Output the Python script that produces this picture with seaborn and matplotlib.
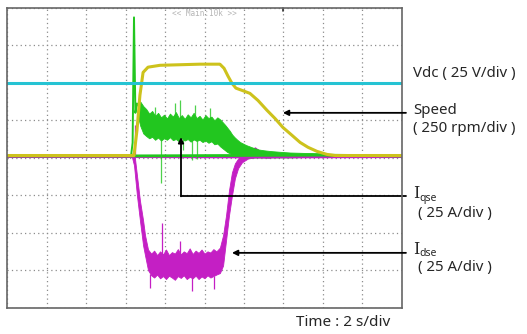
import numpy as np
import matplotlib
matplotlib.use("Agg")
import matplotlib.pyplot as plt
import seaborn as sns

# DATA  (time in s, 2 s/div ; values in screen divisions, 0..8)

# Vdc (cyan), flat
vdc_t = [0, 20]
vdc_v = [6.0, 6.0]

# Speed (yellow)
speed_t = [0, 6.33, 6.43, 6.58, 6.73, 6.89, 7.14, 7.75, 9.77, 10.78, 10.99, 11.19,
           11.39, 11.59, 11.90, 12.30, 12.71, 13.16, 13.57, 13.97, 14.43, 14.84,
           15.24, 15.70, 16.20, 16.61, 20]
speed_v = [4.06, 4.06, 4.06, 4.73, 5.67, 6.28, 6.42, 6.47, 6.50, 6.50, 6.39, 6.18,
           5.99, 5.86, 5.80, 5.72, 5.53, 5.27, 5.05, 4.81, 4.60, 4.41,
           4.28, 4.17, 4.09, 4.06, 4.06]

# Iqse (green): baseline, start spike, noisy band envelope
iqse_base_t = [0, 6.28, 15.85, 20]
iqse_base_v = [4.05, 4.05, 4.07, 4.05]
iqse_spike_t = [6.28, 6.36, 6.43, 6.50, 6.58, 6.63]
iqse_spike_v = [4.05, 4.40, 7.75, 5.20, 5.45, 5.40]
iqse_band_t = [6.63, 6.75, 6.90, 7.05, 7.20, 7.35, 7.50, 7.65, 7.80, 7.95,
               8.10, 8.25, 8.40, 8.55, 8.70, 8.85, 9.00, 9.15, 9.30, 9.45,
               9.60, 9.75, 9.90, 10.05, 10.20, 10.35, 10.50, 10.65, 10.80,
               10.92, 11.04, 11.16, 11.28, 11.40, 11.52, 11.66, 11.80, 11.95, 12.10,
               12.30, 12.50, 12.75, 13.00, 13.32, 13.80, 14.33, 15.00, 15.85]
iqse_upper = [5.53, 5.50, 5.38, 5.30, 5.18, 5.25, 5.12, 5.20, 5.08, 5.15,
              5.05, 5.18, 5.10, 5.22, 5.06, 5.14, 5.04, 5.16, 5.08, 5.20,
              5.06, 5.12, 5.02, 5.14, 5.06, 5.10, 5.00, 5.08, 5.02,
              4.95, 4.88, 4.80, 4.72, 4.62, 4.55, 4.48, 4.42, 4.38, 4.34,
              4.30, 4.26, 4.22, 4.20, 4.18, 4.16, 4.14, 4.13, 4.12]
iqse_lower = [5.10, 4.85, 4.65, 4.58, 4.52, 4.56, 4.48, 4.54, 4.46, 4.52,
              4.48, 4.55, 4.47, 4.50, 4.44, 4.52, 4.46, 4.50, 4.43, 4.49,
              4.45, 4.48, 4.42, 4.46, 4.40, 4.44, 4.36, 4.38, 4.30,
              4.25, 4.20, 4.15, 4.12, 4.09, 4.07, 4.05, 4.03, 4.02, 4.01,
              4.01, 4.01, 4.01, 4.01, 4.01, 4.01, 4.01, 4.02, 4.02]
iqse_peaks_t = [7.49, 8.51, 8.76, 9.52, 10.30, 7.80, 8.91, 9.37, 9.62]
iqse_peaks_lo = [4.90, 4.90, 4.90, 4.90, 4.90, 3.32, 4.20, 3.93, 3.98]
iqse_peaks_hi = [5.35, 5.45, 5.53, 5.40, 5.32, 4.60, 4.50, 4.50, 4.50]

# Idse (magenta): baseline and noisy band envelope
idse_base_t = [0, 6.33, 13.32, 20]
idse_base_v = [4.03, 4.03, 4.02, 4.03]
idse_band_t = [6.33, 6.43, 6.58, 6.73, 6.89, 6.99,
               7.14, 7.30, 7.45, 7.60, 7.75, 7.90, 8.05, 8.20, 8.35, 8.50,
               8.65, 8.80, 8.95, 9.10, 9.25, 9.40, 9.55, 9.70, 9.85, 10.00,
               10.15, 10.30, 10.45, 10.60,
               10.78, 10.94, 11.09, 11.24, 11.39, 11.54, 11.70, 11.90, 12.20,
               12.56, 12.91, 13.32]
idse_upper = [4.09, 4.20, 3.53, 2.86, 2.33, 1.93,
              1.55, 1.44, 1.52, 1.40, 1.50, 1.42, 1.55, 1.40, 1.48, 1.44,
              1.56, 1.42, 1.50, 1.45, 1.58, 1.43, 1.52, 1.46, 1.55, 1.44,
              1.50, 1.47, 1.56, 1.50,
              1.60, 1.93, 2.46, 3.13, 3.61, 3.85, 3.98, 4.06, 4.20,
              4.28, 4.14, 4.04]
idse_lower = [4.01, 3.80, 2.99, 2.33, 1.66, 1.39,
              1.00, 0.86, 0.80, 0.88, 0.78, 0.84, 0.76, 0.85, 0.80, 0.74,
              0.84, 0.79, 0.86, 0.76, 0.82, 0.78, 0.85, 0.76, 0.83, 0.78,
              0.86, 0.80, 0.84, 0.88,
              0.92, 1.12, 1.79, 2.46, 2.99, 3.45, 3.72, 3.88, 3.98,
              4.01, 4.01, 4.00]
idse_peaks_t = [6.48, 7.85, 8.76, 7.24, 9.37, 10.50]
idse_peaks_lo = [4.06, 1.30, 1.30, 0.51, 0.45, 0.50]
idse_peaks_hi = [4.87, 2.27, 1.79, 0.90, 0.85, 0.85]

# arrows: (tip t, tip v, tail t, tail v)
speed_arrow = (13.97, 5.20, 20.2, 5.20)
idse_arrow = (11.39, 1.46, 20.2, 1.46)
iqse_path_t = [20.2, 8.81, 8.81]
iqse_path_v = [2.97, 2.97, 4.55]

CYAN = "#25c3d3"
YELLOW = "#cdc21c"
GREEN = "#22c61f"
MAGENTA = "#c41fc4"

sns.set_theme(style="white")
plt.rcParams['font.family'] = ['Noto Sans', 'DejaVu Sans']

fig = plt.figure(figsize=(5.27, 3.34), dpi=100)
ax = fig.add_axes([0.0133, 0.0793, 0.7495, 0.8967])

# magenta
ax.fill_between(idse_band_t, idse_lower, idse_upper, color=MAGENTA, lw=0.6, edgecolor=MAGENTA)
ax.vlines(idse_peaks_t, idse_peaks_lo, idse_peaks_hi, color=MAGENTA, lw=0.9)
sns.lineplot(x=idse_base_t, y=idse_base_v, ax=ax, color=MAGENTA, lw=2.0)

# green
ax.fill_between(iqse_band_t, iqse_lower, iqse_upper, color=GREEN, lw=0.6, edgecolor=GREEN)
ax.vlines(iqse_peaks_t, iqse_peaks_lo, iqse_peaks_hi, color=GREEN, lw=0.9, alpha=0.8)
sns.lineplot(x=iqse_base_t, y=iqse_base_v, ax=ax, color=GREEN, lw=2.0)
sns.lineplot(x=iqse_spike_t, y=iqse_spike_v, ax=ax, color=GREEN, lw=1.4, sort=False)

# yellow and cyan
sns.lineplot(x=speed_t, y=speed_v, ax=ax, color=YELLOW, lw=2.2)
sns.lineplot(x=vdc_t, y=vdc_v, ax=ax, color=CYAN, lw=2.2)

ax.set_xlim(0, 20)
ax.set_ylim(0, 8)
ax.set_xticks(np.arange(0, 21, 2))
ax.set_yticks(np.arange(0, 9, 1))
ax.grid(True, ls=(0, (1, 2.5)), color="#8c8c8c", lw=0.9)
ax.tick_params(length=0, labelbottom=False, labelleft=False)
for sp in ax.spines.values():
    sp.set_color("#666666")
    sp.set_linewidth(1.2)

# trigger mark on top edge
ax.plot([14.0, 14.0], [7.92, 8.0], color="#333333", lw=1.2, clip_on=False)
ax.text(10.0, 7.86, "<< Main:10k >>", ha="center", va="center", fontsize=5.5,
        family="DejaVu Sans Mono", color="#b5b5b5")

# arrows
arr = dict(arrowstyle="-|>", color="black", lw=1.3, mutation_scale=8, shrinkA=0, shrinkB=0)
for tip_t, tip_v, tail_t, tail_v in [speed_arrow, idse_arrow]:
    ax.annotate("", xy=(tip_t, tip_v), xytext=(tail_t, tail_v), arrowprops=arr,
                annotation_clip=False)
ax.plot(iqse_path_t[:2], iqse_path_v[:2], color="black", lw=1.3, clip_on=False)
ax.annotate("", xy=(iqse_path_t[2], iqse_path_v[2]), xytext=(iqse_path_t[1], iqse_path_v[1]),
            arrowprops=arr, annotation_clip=False)

# labels on the right
W, H = 527, 334
def ftext(px, py, s, **kw):
    fig.text(px / W, 1 - py / H, s, va="center", ha="left", **kw)

ftext(413, 73, "Vdc ( 25 V/div )", fontsize=10.8)
ftext(413, 110, "Speed", fontsize=10.8)
ftext(413, 128, "( 250 rpm/div )", fontsize=10.8)
ftext(413, 194, "I", fontsize=11.5, family="DejaVu Serif")
ftext(419, 199, "qse", fontsize=7.5)
ftext(418, 213, "( 25 A/div )", fontsize=10.8)
ftext(413, 249, "I", fontsize=11.5, family="DejaVu Serif")
ftext(419, 254, "dse", fontsize=7.5)
ftext(418, 268, "( 25 A/div )", fontsize=10.8)
fig.text(343 / W, 1 - 323 / H, "Time : 2 s/div", ha="center", va="center", fontsize=11)

fig.savefig("out.png", dpi=100)
